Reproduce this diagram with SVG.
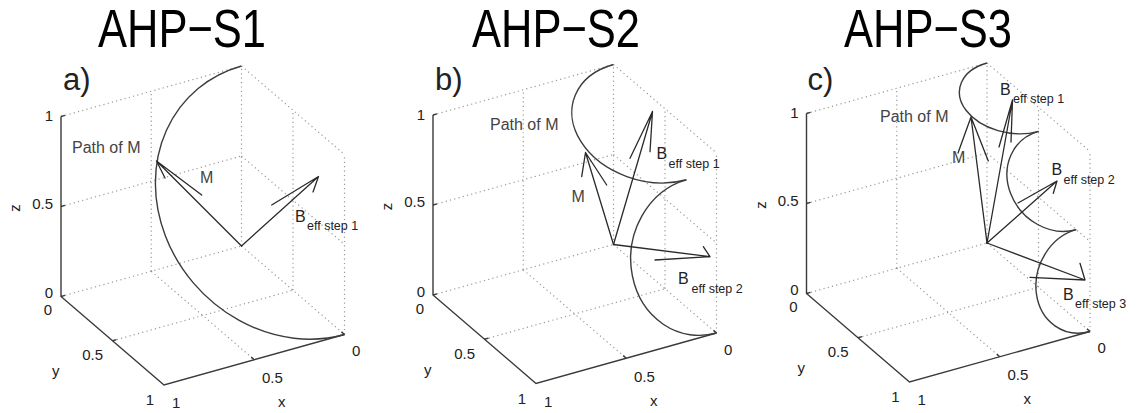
<svg xmlns="http://www.w3.org/2000/svg" xmlns:xlink="http://www.w3.org/1999/xlink" width="1143" height="413" viewBox="0 0 1143 413">
<style>
.ax{stroke:#3a3a3a;stroke-width:1.4;fill:none}
.gr{stroke:#9a9a9a;stroke-width:1.2;stroke-dasharray:1.2 3.2;fill:none}
.cv{stroke:#3c3c3c;stroke-width:1.4;fill:none}
.vec{stroke:#2a2a2a;stroke-width:1.3;fill:none;stroke-linecap:round}
text{font-family:'Liberation Sans',Arial,Helvetica,sans-serif;fill:#222}
.tk{font-size:15px}
.lb{font-size:16px;fill:#444}
.sub{font-size:12.5px}
.ttl{font-size:54px;fill:#000}
.pl{font-size:31px}
</style>
<defs>
<g id="frame">
<path class="gr" d="M0,0L103,88.5M-90.25,25.25L12.75,113.75M-180.5,50.5L0,0M-129,94.75L51.5,44.25M-180.5,-39.5L0,-90M-180.5,-129.5L0,-180M-90.25,25.25L-90.25,-154.75M0,0L0,-180M0,-90L103,-1.5M0,-180L103,-91.5M51.5,44.25L51.5,-135.75M103,88.5L103,-91.5"/>
<path class="ax" d="M-180.5,-129.5L-180.5,50.5L-77.5,139L103,88.5"/>
<path class="ax" d="M-180.5,-129.5l4,-1.1M-180.5,-39.5l4,-1.1M-180.5,50.5l4,-1.1M-129,94.75l4,-1.1M12.75,113.75l-3,-2.6M103,88.5l-3,-2.6"/>
</g>
</defs>

<g id="titles">
<text class="ttl" x="98" y="47" textLength="168" lengthAdjust="spacingAndGlyphs">AHP−S1</text>
<text class="ttl" x="472" y="47" textLength="168" lengthAdjust="spacingAndGlyphs">AHP−S2</text>
<text class="ttl" x="844" y="47" textLength="168" lengthAdjust="spacingAndGlyphs">AHP−S3</text>
</g>

<g id="panel-a" transform="translate(241.5,246)">
<use xlink:href="#frame" href="#frame"/>
<path class="cv" vector-effect="non-scaling-stroke" transform="matrix(-51.5 -134.25 -127.6 35.7 51.5 -45.75)" d="M1,0A1,1 0 0 1 -1,0"/>
<g id="vectors-a">
<path class="vec" d="M0,0L-85,-85L-39.8,-51M-85,-85L-76.5,-68"/>
<path class="vec" d="M0,0L77,-69.5L30.2,-41M77,-69.5L71.5,-54"/>
</g>
<text class="pl" x="-178.5" y="-156">a)</text>
<text class="lb" x="-169.5" y="-93">Path of M</text>
<text class="lb" x="-41.5" y="-63">M</text>
<text class="lb" x="53.5" y="-24" style="fill:#222">B</text>
<text class="sub" x="65.5" y="-16.5">eff step 1</text>
<g class="tk">
<text x="-188.5" y="-125" text-anchor="end">1</text>
<text x="-188.5" y="-37.5" text-anchor="end">0.5</text>
<text x="-188.5" y="52" text-anchor="end">0</text>
<text transform="translate(-221.5,-38) rotate(-90)" text-anchor="middle">z</text>
<text x="-189.5" y="69" text-anchor="end">0</text>
<text x="-138.5" y="114" text-anchor="end">0.5</text>
<text x="-189.5" y="130">y</text>
<text x="-87.5" y="159" text-anchor="end">1</text>
<text x="-69.5" y="162">1</text>
<text x="20.5" y="137">0.5</text>
<text x="36.5" y="161">x</text>
<text x="110.5" y="110">0</text>
</g>
</g>

<g id="panel-b" transform="translate(613.5,244.5)">
<use xlink:href="#frame" href="#frame"/>
<path class="cv" vector-effect="non-scaling-stroke" transform="matrix(-36.42 -57.64 -69.08 19.33 36.42 -122.36)" d="M1,0A1,1 0 0 1 -1,0"/>
<path class="cv" vector-effect="non-scaling-stroke" transform="matrix(-15.08 -76.6 -69.08 19.33 87.92 11.9)" d="M1,0A1,1 0 0 1 -1,0"/>
<g id="vectors-b">
<path class="vec" d="M0,0L-28,-92L-6.8,-59.5M-28,-92L-31.8,-67.8"/>
<path class="vec" d="M0,0L39,-133L16.5,-86.2M39,-133L36.5,-92.8"/>
<path class="vec" d="M0,0L96.5,12.2L41.5,15.5M96.5,12.2L89.8,2.2"/>
</g>
<text class="pl" x="-178.5" y="-155">b)</text>
<text class="lb" x="-123.5" y="-114.5">Path of M</text>
<text class="lb" x="-42" y="-43">M</text>
<text class="lb" x="43" y="-86" style="fill:#222">B</text>
<text class="sub" x="55" y="-76.5">eff step 1</text>
<text class="lb" x="64.5" y="39" style="fill:#222">B</text>
<text class="sub" x="78" y="48.5">eff step 2</text>
<g class="tk">
<text x="-188.5" y="-125" text-anchor="end">1</text>
<text x="-188.5" y="-37.5" text-anchor="end">0.5</text>
<text x="-188.5" y="52" text-anchor="end">0</text>
<text transform="translate(-221.5,-38) rotate(-90)" text-anchor="middle">z</text>
<text x="-189.5" y="69" text-anchor="end">0</text>
<text x="-138.5" y="114" text-anchor="end">0.5</text>
<text x="-189.5" y="130">y</text>
<text x="-87.5" y="159" text-anchor="end">1</text>
<text x="-69.5" y="162">1</text>
<text x="20.5" y="137">0.5</text>
<text x="36.5" y="161">x</text>
<text x="110.5" y="110">0</text>
</g>
</g>

<g id="panel-c" transform="translate(987,243)">
<use xlink:href="#frame" href="#frame"/>
<path class="cv" vector-effect="non-scaling-stroke" transform="matrix(-25.75 -34.19 -46.71 13.07 25.75 -145.8)" d="M1,0A1,1 0 0 1 -1,0"/>
<path class="cv" vector-effect="non-scaling-stroke" transform="matrix(-18.85 -49.14 -46.71 13.07 70.35 -62.49)" d="M1,0A1,1 0 0 1 -1,0"/>
<path class="cv" vector-effect="non-scaling-stroke" transform="matrix(-6.9 -50.93 -46.71 13.07 96.1 37.57)" d="M1,0A1,1 0 0 1 -1,0"/>
<g id="vectors-c">
<path class="vec" d="M0,0L-16,-126L1.3,-82M-16,-126L-29,-90"/>
<path class="vec" d="M0,0L25.5,-143L12,-96M25.5,-143L24,-101"/>
<path class="vec" d="M0,0L70,-62L31,-40M70,-62L66.3,-49.7"/>
<path class="vec" d="M0,0L98,37L43,34.3M98,37L93,20.3"/>
</g>
<text class="pl" x="-179.5" y="-153">c)</text>
<text class="lb" x="-107" y="-121">Path of M</text>
<text class="lb" x="-35" y="-80">M</text>
<text class="lb" x="13" y="-148" style="fill:#222">B</text>
<text class="sub" x="26" y="-140">eff step 1</text>
<text class="lb" x="64.5" y="-68" style="fill:#222">B</text>
<text class="sub" x="76.5" y="-59.5">eff step 2</text>
<text class="lb" x="76" y="57" style="fill:#222">B</text>
<text class="sub" x="88" y="65">eff step 3</text>
<g class="tk">
<text x="-188.5" y="-125" text-anchor="end">1</text>
<text x="-188.5" y="-37.5" text-anchor="end">0.5</text>
<text x="-188.5" y="52" text-anchor="end">0</text>
<text transform="translate(-221.5,-38) rotate(-90)" text-anchor="middle">z</text>
<text x="-189.5" y="69" text-anchor="end">0</text>
<text x="-138.5" y="114" text-anchor="end">0.5</text>
<text x="-189.5" y="130">y</text>
<text x="-87.5" y="159" text-anchor="end">1</text>
<text x="-69.5" y="162">1</text>
<text x="20.5" y="137">0.5</text>
<text x="36.5" y="161">x</text>
<text x="110.5" y="110">0</text>
</g>
</g>
</svg>
